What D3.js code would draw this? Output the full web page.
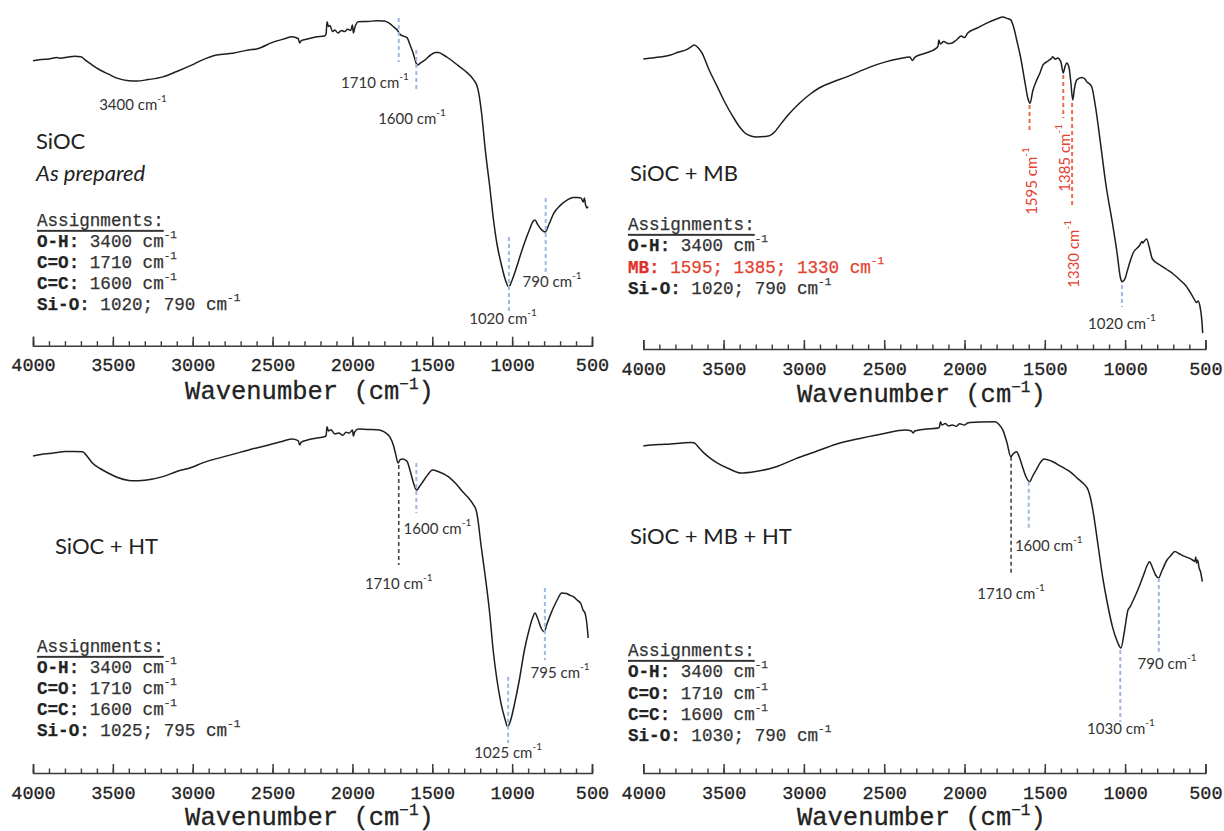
<!DOCTYPE html>
<html><head><meta charset="utf-8">
<script src="https://cdn.jsdelivr.net/npm/d3@7"></script>
<style>body{margin:0;background:#fff}svg{display:block}</style>
</head><body>
<svg id="chart" width="1224" height="831"></svg>
<script>
// ---------- DATA ----------
const tickLabels = [4000, 3500, 3000, 2500, 2000, 1500, 1000, 500];
const minorTicks = [4000,3900,3800,3700,3600,3500,3400,3300,3200,3100,3000,2900,2800,2700,2600,2500,2400,2300,2200,2100,2000,1900,1800,1700,1600,1500,1400,1300,1200,1100,1000,900,800,700,600,500];

// spectra: [wavenumber (cm-1), relative transmittance (a.u.)]
const specAsPrepared = [[4000,93.1],[3950,93.5],[3900,93.7],[3850,94.2],[3830,93.9],[3780,94.3],[3740,94.6],[3700,94.4],[3670,93.2],[3630,91.7],[3580,90],[3530,88.7],[3470,87.2],[3400,86.4],[3350,86.3],[3280,86.8],[3187,87.7],[3100,89.5],[3000,91.8],[2942,93.3],[2850,95],[2750,95.6],[2650,96.7],[2600,97],[2500,99.2],[2420,100.5],[2380,101.1],[2340,100.5],[2330,99],[2320,99.8],[2282,100.3],[2230,101],[2175,101.3],[2165,102],[2159,106.1],[2150,104.5],[2140,104.8],[2125,102.8],[2110,103.3],[2090,102.3],[2070,103.2],[2049,102.8],[2030,103.6],[2010,103.2],[2000,105],[1994,102.3],[1985,104.2],[1963,106.1],[1900,106.2],[1850,106.4],[1800,106.3],[1770,105.6],[1743,104.4],[1720,103.3],[1700,101.8],[1680,101.3],[1657,100.7],[1640,98.5],[1620,95.7],[1600,92.2],[1591,91.7],[1575,92.3],[1547,93.3],[1510,95],[1480,95.8],[1462,95.8],[1430,95],[1400,94],[1350,92],[1302,90],[1260,88],[1241,86.7],[1222,85],[1209,82.3],[1190,75],[1168,63.3],[1140,51],[1119,41],[1095,32],[1070,25.7],[1045,20.5],[1021,17.7],[1000,20],[972,24.3],[950,28],[923,32.3],[890,37],[870,39.5],[857,40],[840,38.5],[815,36.7],[793,36],[770,38.5],[739,42.3],[700,44.8],[654,46.7],[620,47.5],[590,47.5],[568,47.3],[555,46],[548,47.3],[540,45],[531,44],[525,44.5]];

const specMB = [[4000,93.7],[3950,94],[3900,94.3],[3830,95],[3780,96],[3730,96.8],[3700,97.8],[3684,98.3],[3660,97.5],[3635,95.7],[3590,90],[3538,84.3],[3490,79],[3440,74.3],[3400,71],[3367,69],[3330,68],[3294,67.7],[3221,68],[3180,69.5],[3148,71.7],[3090,75.5],[3026,79],[2960,82],[2905,84],[2820,86],[2734,87.7],[2620,90.3],[2491,92.7],[2400,93.8],[2340,94.3],[2325,93.2],[2310,94.2],[2250,95.5],[2175,97.3],[2165,98],[2160,100],[2150,98.7],[2130,99.5],[2100,98.8],[2077,99],[2050,100],[2020,101.3],[2000,100.8],[1980,102.3],[1920,104],[1858,105.7],[1800,107],[1761,107.7],[1735,107.2],[1712,106.7],[1690,103.5],[1675,100],[1650,94],[1623,85.7],[1605,80.5],[1592,78.9],[1575,83],[1550,86.7],[1530,89],[1511,91.7],[1480,93],[1460,93.8],[1450,94.4],[1435,93.6],[1420,94],[1400,92.7],[1385,89],[1375,91],[1364,92.3],[1350,91],[1338,86],[1326,80],[1315,84],[1301,86.7],[1270,87.5],[1250,87],[1239,86.1],[1225,85.5],[1208,84.4],[1185,78],[1156,66.7],[1120,52],[1075,37.7],[1050,29],[1030,21],[1020,19.4],[1000,20.5],[985,23.3],[950,29],[910,31.5],[895,32.8],[890,32.3],[880,33],[866,33.7],[850,31],[830,27],[783,25],[740,23.5],[700,22],[658,20],[620,18],[577,14.3],[555,12.5],[545,13],[533,11],[525,8],[520,5],[517,2.3]];

const specHT = [[4000,94.7],[3950,95.2],[3900,95.5],[3848,95.8],[3800,96.2],[3740,96.2],[3689,96.1],[3660,94.5],[3628,92.3],[3580,90.5],[3530,89],[3470,87.5],[3400,86.5],[3383,86.4],[3300,86.6],[3187,87.8],[3100,89.5],[3000,91],[2942,92.3],[2850,93.8],[2750,95.2],[2649,96.7],[2550,98],[2450,99.4],[2380,100.3],[2340,99.8],[2330,98.3],[2320,99.3],[2282,100],[2230,100.6],[2175,101.1],[2165,101.5],[2159,104.4],[2150,103],[2135,103.4],[2110,102],[2086,102.3],[2060,101.6],[2040,102.6],[2020,102.3],[2000,103.3],[1994,101.3],[1985,102.8],[1963,103.7],[1900,103.5],[1850,103.4],[1816,103.1],[1790,102.3],[1767,101.1],[1745,98.5],[1731,95.7],[1714,92.3],[1700,93.5],[1682,93.7],[1665,93.2],[1657,92.8],[1640,90],[1620,86.1],[1605,83.8],[1596,83.3],[1580,84.5],[1559,86.1],[1530,88.3],[1498,90],[1460,89.4],[1400,87.8],[1350,85.3],[1302,82.3],[1270,80.5],[1241,78.3],[1225,76.5],[1217,74.4],[1195,65],[1168,54.4],[1140,42],[1119,30],[1095,20],[1070,12.3],[1045,7],[1028,4.4],[1010,6.5],[984,12.3],[955,20],[923,30],[895,36.5],[870,41],[857,42.3],[840,40.5],[820,37.5],[800,36.1],[780,39],[760,41.8],[739,44.4],[715,47],[690,49],[660,48.8],[640,48.3],[617,47.8],[590,46.5],[570,45.5],[556,43.3],[545,42.5],[535,40],[528,36.5],[524,34]];

const specMBHT = [[4000,98],[3950,98.3],[3900,98.5],[3830,98.7],[3760,99],[3700,99.2],[3684,99.1],[3655,97.5],[3623,95.7],[3580,93.8],[3538,92.3],[3470,90.5],[3392,89],[3300,89.5],[3172,91.1],[3050,93.8],[2929,96.1],[2800,98.6],[2637,100.7],[2500,102.2],[2369,103.3],[2330,103],[2321,102.3],[2310,103],[2250,103.6],[2162,104],[2155,104.6],[2150,106.1],[2140,105],[2120,105.5],[2100,104.7],[2077,105],[2050,104.6],[2030,105.4],[2000,105],[1980,105.7],[1900,106],[1809,106.1],[1785,105.2],[1761,103.3],[1735,99],[1712,94.4],[1695,95.5],[1676,96.1],[1660,94.5],[1639,91.1],[1615,87.5],[1595,86.1],[1575,88],[1554,90],[1530,92.3],[1505,93.7],[1460,93],[1396,91.1],[1340,89.3],[1298,87.3],[1260,85.5],[1230,83.3],[1215,80.5],[1201,76.7],[1170,65.5],[1140,54.4],[1110,45.5],[1079,37.8],[1050,33],[1026,30.7],[1005,36],[982,43.3],[970,44.3],[950,46.5],[921,50],[885,55],[860,58.5],[848,59.4],[830,57.5],[810,55],[792,54],[770,56.5],[739,60],[715,61.5],[690,62.8],[660,62],[630,61.2],[605,60.7],[580,60],[566,59.5],[560,61],[556,59],[548,60],[540,57.5],[530,56],[519,52.8]];

// peak markers: wavenumber, colour class
const peaksAsPrepared = [[1710,'blue'],[1600,'blue'],[1020,'blue'],[790,'blue']];
const peaksMB = [[1595,'red'],[1385,'red'],[1330,'red'],[1020,'blue']];
const peaksHT = [[1710,'black'],[1600,'blue'],[1025,'blue'],[795,'blue']];
const peaksMBHT = [[1710,'black'],[1600,'blue'],[1030,'blue'],[790,'blue']];

// peak label texts
const labelsAsPrepared = ['3400','1710','1600','1020','790'];
const labelsMB = ['1595','1385','1330','1020'];
const labelsHT = ['1710','1600','1025','795'];
const labelsMBHT = ['1710','1600','1030','790'];

// assignment tables
const assignAsPrepared = [['O-H:','3400'],['C=O:','1710'],['C=C:','1600'],['Si-O:','1020; 790']];
const assignMB = [['O-H:','3400'],['MB:','1595; 1385; 1330'],['Si-O:','1020; 790']];
const assignHT = [['O-H:','3400'],['C=O:','1710'],['C=C:','1600'],['Si-O:','1025; 795']];
const assignMBHT = [['O-H:','3400'],['C=O:','1710'],['C=C:','1600'],['Si-O:','1030; 790']];

// ---------- LAYOUT ----------
const COL = {blue:'#9fb8e3', red:'#f0694c', black:'#444', text:'#333', redText:'#e4412f'};
const panels = [
  {spec:specAsPrepared, peaks:peaksAsPrepared, labels:labelsAsPrepared, assign:assignAsPrepared,
   x0:33, x1:592, yBot:340, yTop:10, axisY:345.7, titleY:392,
   titles:[{t:'SiOC',x:36,y:140},{t:'As prepared',x:36,y:172,italic:true}],
   assignX:37, assignY:221, assignDy:21,
   dash:[[107.3,92.7],[96.7,82.7],[34.3,9.3],[47.3,22.3]],
   lab:[[3374,78.7,'middle'],[1859,86,'middle'],[1627,74,'middle'],[1057,7.3,'middle'],[750,19.7,'middle']]},
  {spec:specMB, peaks:peaksMB, labels:labelsMB, assign:assignMB,
   x0:643.3, x1:1205.4, yBot:340, yTop:10, axisY:349, titleY:395,
   titles:[{t:'SiOC + MB',x:630,y:172}],
   assignX:628, assignY:225, assignDy:21.3,
   dash:[[78.3,69],[88.3,74],[79,44.3],[18.3,11]],
   lab:[[1595,53,'rot'],[1385,60.7,'rot'],[1330,28.7,'rot'],[1020,5.7,'middle']]},
  {spec:specHT, peaks:peaksHT, labels:labelsHT, assign:assignHT,
   x0:33, x1:592, yBot:740, yTop:410, axisY:773, titleY:818,
   titles:[{t:'SiOC + HT',x:55,y:545}],
   assignX:37, assignY:647, assignDy:21,
   dash:[[91.7,58.3],[92.3,75.7],[21.1,-1],[50.7,26.7]],
   lab:[[1710,52.4,'middle'],[1680,70.7,'start'],[1025,-3.9,'middle'],[700,22.8,'middle']]},
  {spec:specMBHT, peaks:peaksMBHT, labels:labelsMBHT, assign:assignMBHT,
   x0:643.3, x1:1205.4, yBot:740, yTop:410, axisY:773, titleY:818,
   titles:[{t:'SiOC + MB + HT',x:630,y:535}],
   assignX:628, assignY:651, assignDy:21.3,
   dash:[[94.4,55],[86.1,70],[30,6.1],[54,29.4]],
   lab:[[1710,49.1,'middle'],[1686,65,'start'],[1026,4,'middle'],[739,25.8,'middle']]}
];

const svg = d3.select('#chart');
const SANS = 'Lato, "Open Sans", sans-serif';
const MONO = '"Liberation Mono", "Courier New", monospace';

panels.forEach((p, pi) => {
  const g = svg.append('g');
  const x = d3.scaleLinear().domain([4000, 500]).range([p.x0, p.x1]);
  const y = d3.scaleLinear().domain([0, 110]).range([p.yBot, p.yTop]);

  // axis: minor ticks
  const minorAxis = d3.axisBottom(x).tickValues(minorTicks).tickSizeInner(-4.5).tickSizeOuter(0).tickFormat('');
  const gMin = g.append('g').attr('transform', `translate(0,${p.axisY})`).call(minorAxis);
  gMin.select('.domain').remove();
  gMin.selectAll('line').attr('stroke', '#3a3a3a').attr('stroke-width', 1.4);
  // major ticks + labels + domain
  const majorAxis = d3.axisBottom(x).tickValues(tickLabels).tickSizeInner(-9).tickSizeOuter(-9).tickPadding(12.5).tickFormat(d3.format('d'));
  const gMaj = g.append('g').attr('transform', `translate(0,${p.axisY})`).call(majorAxis);
  gMaj.select('.domain').attr('stroke', '#3a3a3a').attr('stroke-width', 1.5);
  gMaj.selectAll('line').attr('stroke', '#3a3a3a').attr('stroke-width', 1.5);
  gMaj.selectAll('text').attr('font-family', MONO).attr('font-size', 18.5).attr('fill', '#222')
    .attr('stroke', '#222').attr('stroke-width', 0.3);

  // axis title
  const tt = g.append('text').attr('x', (p.x0 + p.x1) / 2 - 3).attr('y', p.titleY)
    .attr('text-anchor', 'middle').attr('dominant-baseline', 'central')
    .attr('font-family', MONO).attr('font-size', 25.5).attr('fill', '#222')
    .attr('stroke', '#222').attr('stroke-width', 0.3);
  tt.append('tspan').text('Wavenumber (cm');
  tt.append('tspan').attr('font-size', 16).attr('dy', -7).text('\u22121');
  tt.append('tspan').attr('dy', 7).text(')');

  // spectrum
  const line = d3.line().x(d => x(d[0])).y(d => y(d[1])).curve(d3.curveMonotoneX);
  g.append('path').datum(p.spec).attr('d', line).attr('fill', 'none')
    .attr('stroke', '#1e1e1e').attr('stroke-width', 1.5).attr('stroke-linejoin', 'round');

  // peak dashes
  p.peaks.forEach((pk, i) => {
    const d = p.dash[i];
    g.append('line').attr('x1', x(pk[0])).attr('x2', x(pk[0]))
      .attr('y1', y(d[0])).attr('y2', y(d[1]))
      .attr('stroke', COL[pk[1]]).attr('stroke-width', pk[1] === 'black' ? 1.6 : 2)
      .attr('stroke-dasharray', '4,3');
  });

  // peak labels
  p.labels.forEach((t, i) => {
    const L = p.lab[i];
    const isRot = L[2] === 'rot';
    const tx = g.append('text').attr('font-family', SANS).attr('font-size', 15)
      .attr('dominant-baseline', 'central')
      .attr('fill', isRot ? COL.redText : COL.text);
    if (isRot) {
      tx.attr('text-anchor', 'middle')
        .attr('transform', `translate(${x(L[0]) + 1},${y(L[1])}) rotate(-90)`);
    } else {
      tx.attr('text-anchor', L[2]).attr('x', x(L[0])).attr('y', y(L[1]));
    }
    tx.append('tspan').text(t + ' cm');
    tx.append('tspan').attr('font-size', 10).attr('dy', -6).text('-1');
  });

  // panel titles
  p.titles.forEach(tl => {
    g.append('text').attr('x', tl.x).attr('y', tl.y).attr('dominant-baseline', 'central')
      .attr('font-family', SANS).attr('font-size', 22).attr('fill', '#222')
      .attr('font-style', tl.italic ? 'italic' : 'normal').text(tl.t);
  });

  // assignments
  g.append('text').attr('x', p.assignX).attr('y', p.assignY).attr('dominant-baseline', 'central')
    .attr('font-family', MONO).attr('font-size', 17.6).attr('fill', '#333')
    .attr('stroke', '#333').attr('stroke-width', 0.25)
    .attr('text-decoration', 'underline').text('Assignments:');
  p.assign.forEach((row, i) => {
    const isMB = row[0] === 'MB:';
    const t = g.append('text').attr('x', p.assignX).attr('y', p.assignY + p.assignDy * (i + 1))
      .attr('dominant-baseline', 'central').attr('font-family', MONO).attr('font-size', 17.6)
      .attr('fill', isMB ? COL.redText : '#333')
      .attr('stroke', isMB ? COL.redText : '#333').attr('stroke-width', 0.25);
    t.append('tspan').attr('font-weight', 'bold').attr('fill', isMB ? '#e0302a' : '#222').text(row[0]);
    t.append('tspan').text(' ' + row[1] + ' cm');
    t.append('tspan').attr('font-size', 11).attr('dy', -7).text('-1');
  });
});
</script>
</body></html>
